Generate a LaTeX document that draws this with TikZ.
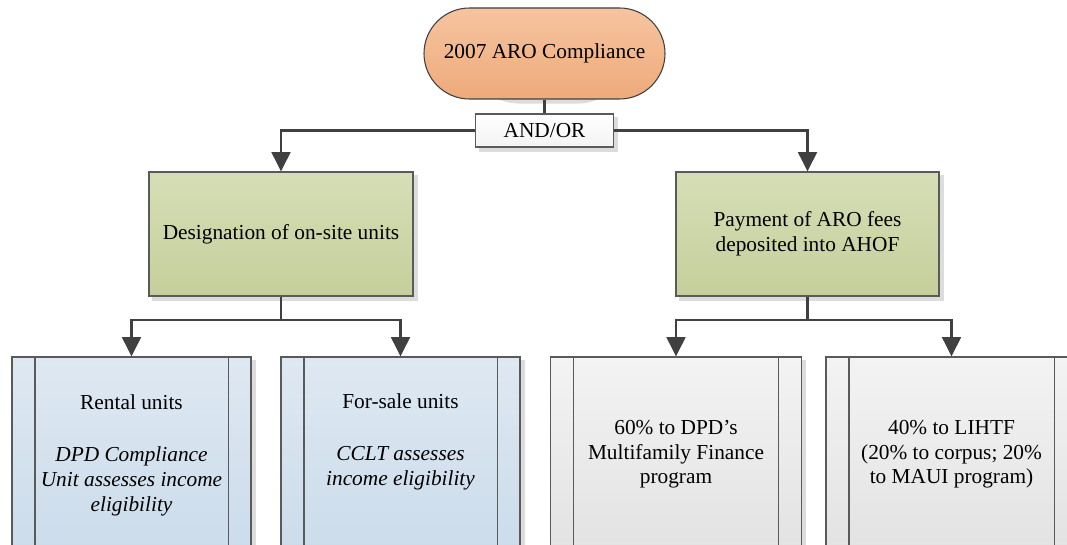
\documentclass[tikz,border=0pt]{standalone}
\usepackage{fontspec}
\setmainfont{Liberation Serif}
\usetikzlibrary{arrows.meta,shapes.misc,backgrounds}
\definecolor{linec}{HTML}{404040}
\definecolor{bordc}{HTML}{5A5A5A}
\definecolor{orT}{HTML}{F6C4A0}
\definecolor{orB}{HTML}{EEAA7A}
\definecolor{grT}{HTML}{D6DEB6}
\definecolor{grB}{HTML}{C5CF9B}
\definecolor{blT}{HTML}{DEE8F2}
\definecolor{blB}{HTML}{CADBEA}
\definecolor{gyT}{HTML}{F3F3F3}
\definecolor{gyB}{HTML}{E1E1E1}
\definecolor{shadc}{HTML}{DCDCDC}
\newcommand{\pxu}{0.75pt}
\tikzset{
  shapebase/.style={draw=bordc, line width=0.8pt, inner sep=0pt},
  termbox/.style={shapebase, rounded rectangle, draw=linec, top color=orT, bottom color=orB,
    minimum width=241*\pxu, minimum height=91*\pxu},
  opbox/.style={shapebase, rectangle, top color=white, bottom color=gyT,
    minimum width=138*\pxu, minimum height=33*\pxu},
  greenbox/.style={shapebase, rectangle, top color=grT, bottom color=grB,
    minimum width=264*\pxu, minimum height=124*\pxu, align=center},
  bluebox/.style={shapebase, rectangle, top color=blT, bottom color=blB,
    minimum width=239*\pxu, minimum height=210*\pxu},
  graybox/.style={shapebase, rectangle, top color=gyT, bottom color=gyB,
    minimum width=251*\pxu, minimum height=210*\pxu},
  innerline/.style={draw=bordc, line width=0.8pt},
  txt/.style={align=center, inner sep=0pt, anchor=north},
  plainline/.style={draw=linec, line width=2.1pt},
  conn/.style={plainline, -{Triangle[width=14pt,length=14.5pt]}},
  shadowfill/.style={fill=shadc, draw=none}
}
\begin{document}
\begin{tikzpicture}[x=0.75pt,y=-0.75pt, font=\fontsize{16pt}{18.5pt}\selectfont]
\useasboundingbox (0,0) rectangle (1067,545);
\clip (0,0) rectangle (1067,545);

\node[termbox] (term) at (544.5,53.5) {2007 ARO Compliance};
\node[opbox] (andor) at (544.5,130.5) {AND/OR};
\node[greenbox] (g1) at (281,234) {Designation of on-site units};
\node[greenbox, minimum width=263*\pxu] (g2) at (807.5,234) {Payment of ARO fees\\deposited into AHOF};

\node[bluebox] (rent) at (131.5,462) {};
\node[bluebox] (sale) at (400.5,462) {};
\node[graybox] (p60) at (676,462) {};
\node[graybox] (p40) at (951.5,462) {};

\begin{pgfonlayer}{background}
  \fill[white] (0,0) rectangle (1067,545);
  \fill[shadowfill, rounded corners=33.5pt]
    ([shift={(3pt,-3pt)}]term.south west) rectangle ([shift={(3pt,-3pt)}]term.north east);
  \foreach \b in {andor,g1,g2,rent,sale,p60,p40}{
    \fill[shadowfill] ([shift={(3pt,-3pt)}]\b.south west) rectangle ([shift={(3pt,-3pt)}]\b.north east);
  }
\end{pgfonlayer}

\foreach \b in {rent,sale,p60,p40}{
  \draw[innerline] ([xshift=23.5*\pxu]\b.north west) -- ([xshift=23.5*\pxu]\b.south west);
  \draw[innerline] ([xshift=-23.5*\pxu]\b.north east) -- ([xshift=-23.5*\pxu]\b.south east);
}

\node[txt] (rentT) at (131.5,394) {Rental units\\[21pt]\itshape DPD Compliance\\\itshape Unit assesses income\\\itshape eligibility};
\node[txt] (saleT) at (400.5,393) {For-sale units\\[21pt]\itshape CCLT assesses\\\itshape income eligibility};
\node[txt] (p60T) at (676,420) {60\% to DPD’s\\Multifamily Finance\\program};
\node[txt] (p40T) at (951.5,420) {40\% to LIHTF\\(20\% to corpus; 20\%\\to MAUI program)};

\draw[plainline] (term.south) -- (andor.north);
\draw[conn] (andor.west) -| (g1.north);
\draw[conn] (andor.east) -| (g2.north);

\coordinate (j1) at (281,320);
\coordinate (j2) at (807.5,320);
\draw[plainline] (g1.south) -- (j1);
\draw[conn] (j1) -| (rent.north);
\draw[conn] (j1) -| (sale.north);
\draw[plainline] (g2.south) -- (j2);
\draw[conn] (j2) -| (p60.north);
\draw[conn] (j2) -| (p40.north);
\end{tikzpicture}
\end{document}
